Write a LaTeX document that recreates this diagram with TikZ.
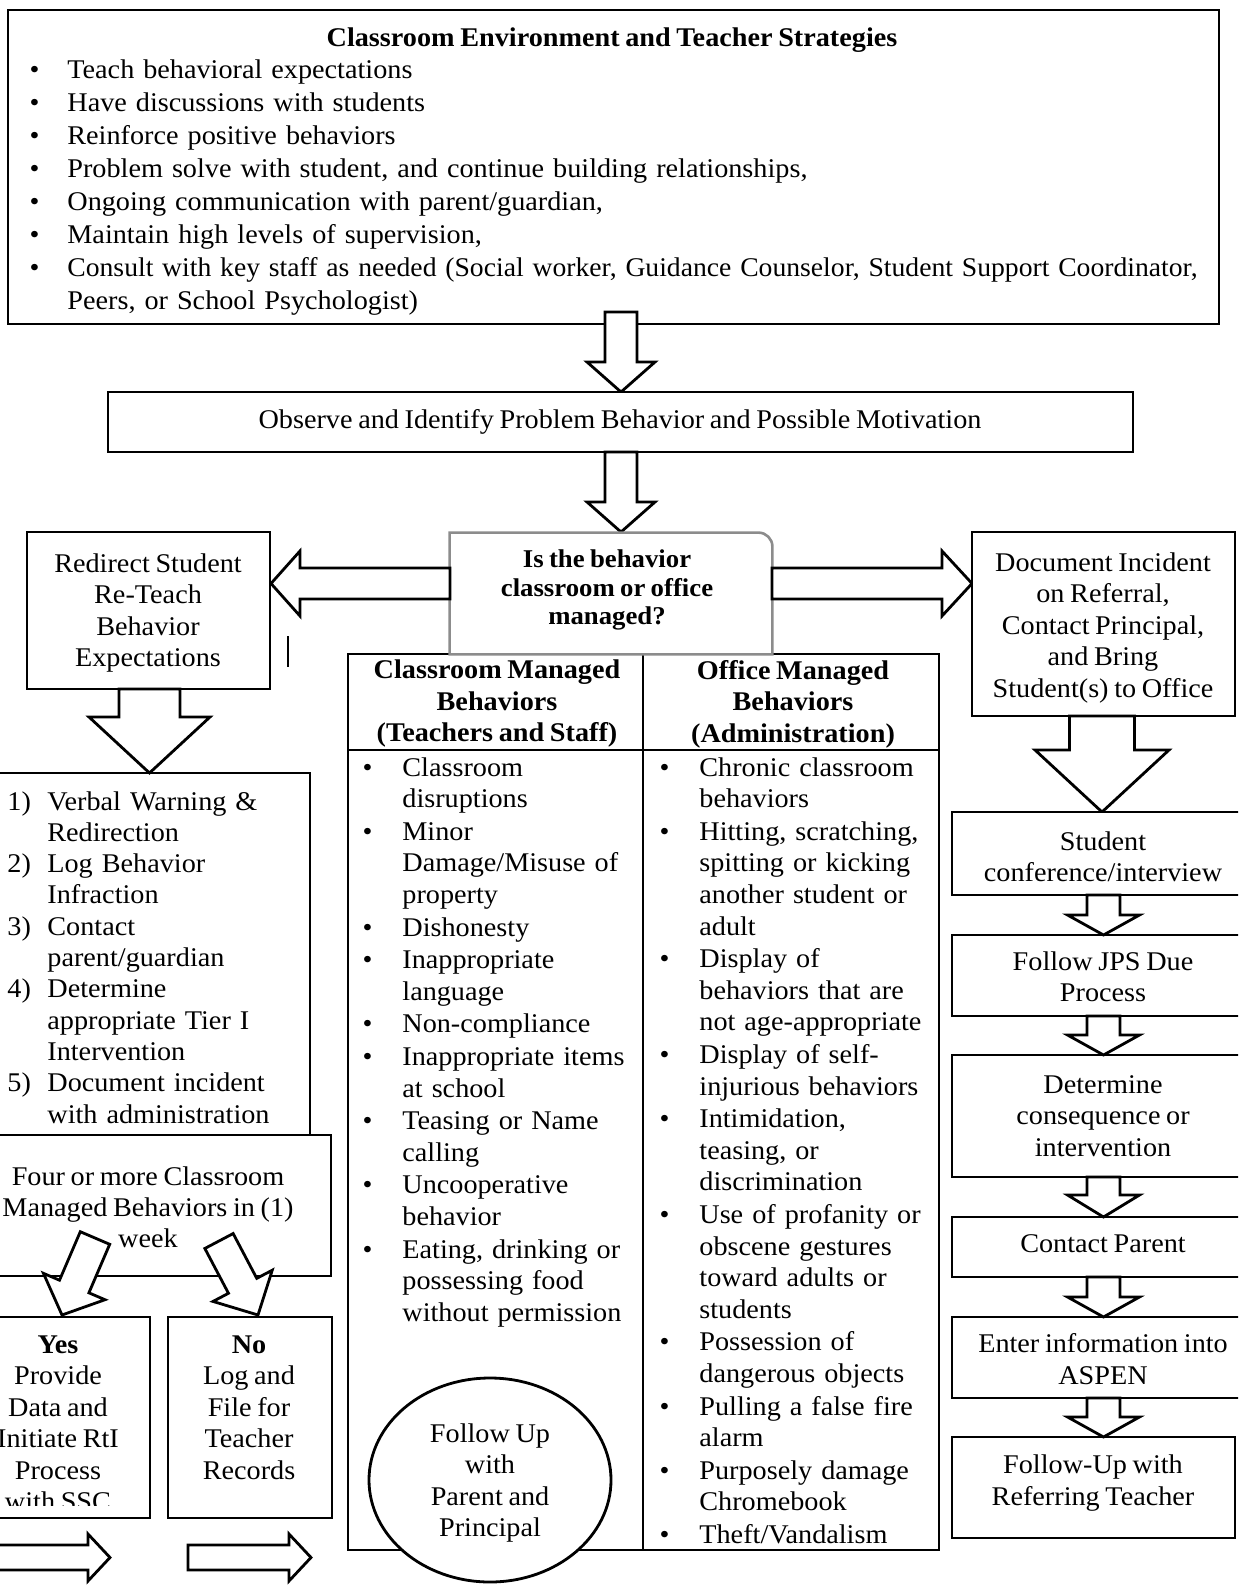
\documentclass[tikz,border=0pt]{standalone}
\usepackage{fontspec}
\setmainfont{Liberation Serif}[FakeStretch=1.045, WordSpace=0.8]
\usetikzlibrary{calc,fit,shapes.geometric}

\newcommand{\fs}{\fontsize{13.5pt}{15.75pt}\selectfont}
\newcommand{\bul}[1]{\leavevmode\llap{•\hspace{#1}}}
\newcommand{\nm}[1]{\leavevmode\llap{\makebox[20pt][l]{#1}}}

\tikzset{
  box/.style={draw, line width=1.4pt, fill=white, inner sep=0pt},
  txt/.style={inner sep=0pt, font=\fs, align=center},
  lst/.style={inner sep=0pt, align=left},
  blk/.style={draw, line width=1.4pt, fill=white, line join=miter},
  tbl/.style={draw, line width=0.9pt, inner sep=0pt},
  tline/.style={line width=0.9pt},
  decb/.style={draw=black!45, line width=1.3pt, fill=white},
}

% block arrow: from, to, half shaft width, half head width, head length
\newcommand{\barr}[5]{%
  \coordinate (hb) at ($(#2)!#5!(#1)$);
  \draw[blk] ($(#1)!#3!90:(#2)$) -- ($(hb)!#3!90:(#2)$) -- ($(hb)!#4!90:(#2)$) -- (#2)
    -- ($(hb)!#4!-90:(#2)$) -- ($(hb)!#3!-90:(#2)$) -- ($(#1)!#3!-90:(#2)$) -- cycle;
}
% box: [opts]{name}{x1}{y1}{x2}{y2}
\newcommand{\bx}[6][]{%
  \pgfmathsetmacro\bw{(#5-#3)*0.5}%
  \pgfmathsetmacro\bh{(#6-#4)*0.5}%
  \node[box, minimum width=\bw pt, minimum height=\bh pt, #1] (#2) at ({(#3+#5)/2},{(#4+#6)/2}) {};%
}

\begin{document}
\begin{tikzpicture}[x=0.5pt, y=-0.5pt]
\useasboundingbox (0,0) rectangle (1238,1593);
\clip (0,0) rectangle (1238,1593);
\fill[white] (0,0) rectangle (1238,1593);

% ---------- top box
\bx{top}{8}{10}{1219}{324}
\node[txt, anchor=base, font=\fs\bfseries] (toptitle) at (612,47) {Classroom Environment and Teacher Strategies};
\node[lst, anchor=base west, text width=590pt, font=\fontsize{13.5pt}{16.45pt}\selectfont] (toplist) at (67,79) {%
\bul{14pt}Teach behavioral expectations\\
\bul{14pt}Have discussions with students\\
\bul{14pt}Reinforce positive behaviors\\
\bul{14pt}Problem solve with student, and continue building relationships,\\
\bul{14pt}Ongoing communication with parent/guardian,\\
\bul{14pt}Maintain high levels of supervision,\\
\bul{14pt}\scalebox{0.98}[1]{Consult with key staff as needed (Social worker, Guidance Counselor, Student Support Coordinator,}\\
Peers, or School Psychologist)};

% ---------- observe
\coordinate (a1s) at (621,312);
\coordinate (a1e) at (621,392);
\barr{a1s}{a1e}{8pt}{17pt}{15pt}
\bx{obs}{108}{392}{1133}{452}
\node[txt] (obstext) at (620,422) {Observe and Identify Problem Behavior and Possible Motivation};
\coordinate (a2s) at (621,452);
\coordinate (a2e) at (621,532);
\barr{a2s}{a2e}{8pt}{17pt}{15pt}

% ---------- table
\node[tbl, fit={(348,654) (939,1550)}] (table) {};
\draw[tline] (643,654) -- (643,1550);
\draw[tline] (348,750) -- (939,750);
\node[txt, font=\fs\bfseries] (h1) at (497,704) {Classroom Managed\\Behaviors\\(Teachers and Staff)};
\node[txt, font=\fs\bfseries] (h2) at (793,704) {Office Managed\\Behaviors\\(Administration)};

\node[lst, anchor=base west, text width=150pt, font=\fontsize{13.5pt}{15.8pt}\selectfont] (col1) at (402,776) {%
\bul{15pt}Classroom\\disruptions\\[0.5pt]
\bul{15pt}Minor\\Damage/Misuse of\\property\\[0.5pt]
\bul{15pt}Dishonesty\\[0.5pt]
\bul{15pt}Inappropriate\\language\\[0.5pt]
\bul{15pt}Non-compliance\\[0.5pt]
\bul{15pt}Inappropriate items\\at school\\[0.5pt]
\bul{15pt}Teasing or Name\\calling\\[0.5pt]
\bul{15pt}Uncooperative\\behavior\\[0.5pt]
\bul{15pt}Eating, drinking or\\possessing food\\without permission};

\node[lst, anchor=base west, text width=150pt, font=\fontsize{13.5pt}{15.8pt}\selectfont] (col2) at (699,776) {%
\bul{15pt}Chronic classroom\\behaviors\\[0.5pt]
\bul{15pt}Hitting, scratching,\\spitting or kicking\\another student or\\adult\\[0.5pt]
\bul{15pt}Display of\\behaviors that are\\not age-appropriate\\[0.5pt]
\bul{15pt}Display of self-\\injurious behaviors\\[0.5pt]
\bul{15pt}Intimidation,\\teasing, or\\discrimination\\[0.5pt]
\bul{15pt}Use of profanity or\\obscene gestures\\toward adults or\\students\\[0.5pt]
\bul{15pt}Possession of\\dangerous objects\\[0.5pt]
\bul{15pt}Pulling a false fire\\alarm\\[0.5pt]
\bul{15pt}Purposely damage\\Chromebook\\[0.5pt]
\bul{15pt}Theft/Vandalism};

\node[ellipse, draw, line width=1.4pt, fill=white, minimum width=121pt, minimum height=102pt, inner sep=0pt] (fup) at (490,1480) {};
\node[txt, font=\fontsize{13.5pt}{15.6pt}\selectfont] (fuptext) at (490,1483) {Follow Up\\with\\Parent and\\Principal};

% ---------- decision
\node[inner sep=0pt, fit={(450,533) (772,654)}] (dec) {};
\draw[decb] (dec.south west) -- (dec.north west) -- ([xshift=-7pt]dec.north east) arc[start angle=90, end angle=0, radius=7pt] -- (dec.south east) -- cycle;
\node[txt, font=\fontsize{12.8pt}{14.25pt}\selectfont\bfseries] (dectext) at (607,590) {Is the behavior\\classroom or office\\managed?};

% ---------- left branch
\bx{redir}{27}{532}{270}{689}
\node[txt] (redirtext) at (148,613) {Redirect Student\\Re-Teach\\Behavior\\Expectations};
\coordinate (a3s) at (450,583.5);
\coordinate (a3e) at (271,583.5);
\barr{a3s}{a3e}{7.75pt}{16.25pt}{14.5pt}
\draw[line width=0.7pt] (288,636) -- (288,667);

\bx{steps}{-3}{773}{310}{1135}
\coordinate (a5s) at (149.5,689);
\coordinate (a5e) at (149.5,773);
\barr{a5s}{a5e}{15.25pt}{30.25pt}{28pt}
\node[lst, anchor=base west, text width=200pt, font=\fontsize{13.5pt}{15.65pt}\selectfont] (stepslist) at (47,810) {%
\nm{1)}Verbal Warning \&\\Redirection\\
\nm{2)}Log Behavior\\Infraction\\
\nm{3)}Contact\\parent/guardian\\
\nm{4)}Determine\\appropriate Tier I\\Intervention\\
\nm{5)}Document incident\\with administration};

\bx{four}{-3}{1135}{331}{1276}
\node[txt, font=\fontsize{13.5pt}{15.6pt}\selectfont] (fourtext) at (148,1207) {Four or more Classroom\\Managed Behaviors in (1)\\week};

\bx{yes}{-3}{1317}{150}{1518}
\bx{no}{168}{1317}{332}{1518}
\begin{scope}
\clip (0,1319) rectangle (148,1505);
\node[txt, anchor=north] (yestext) at (58,1335) {\textbf{Yes}\\Provide\\Data and\\Initiate RtI\\Process\\with SSC};
\end{scope}
\node[txt, anchor=north] (notext) at (249,1335) {\textbf{No}\\Log and\\File for\\Teacher\\Records};

\coordinate (ys) at (95,1238);
\coordinate (ye) at (62,1315);
\barr{ys}{ye}{8pt}{16.75pt}{15.5pt}
\coordinate (ns) at (219,1241);
\coordinate (ne) at (258,1315);
\barr{ns}{ne}{8pt}{16.75pt}{16.5pt}

\coordinate (b1s) at (-10,1557.5);
\coordinate (b1e) at (110,1557.5);
\barr{b1s}{b1e}{6.25pt}{11.75pt}{11pt}
\coordinate (b2s) at (188,1557.5);
\coordinate (b2e) at (311,1557.5);
\barr{b2s}{b2e}{6.25pt}{11.75pt}{11pt}

% ---------- right branch
\coordinate (a4s) at (772,583.5);
\coordinate (a4e) at (972,583.5);
\barr{a4s}{a4e}{7.75pt}{16.25pt}{15pt}
\bx{doc}{972}{532}{1235}{716}
\node[txt] (doctext) at (1103,628) {Document Incident\\on Referral,\\Contact Principal,\\and Bring\\Student(s) to Office};
\coordinate (a6s) at (1102,716);
\coordinate (a6e) at (1102,812);
\barr{a6s}{a6e}{16.25pt}{33.5pt}{31pt}

\bx{conf}{952}{812}{1250}{895}
\node[txt] (conftext) at (1103,857) {Student\\conference/interview};
\bx{jps}{952}{935}{1250}{1016}
\node[txt] (jpstext) at (1103,977) {Follow JPS Due\\Process};
\bx{cons}{952}{1055}{1250}{1177}
\node[txt] (constext) at (1103,1116) {Determine\\consequence or\\intervention};
\bx{cpar}{952}{1217}{1250}{1277}
\node[txt] (cpartext) at (1103,1244) {Contact Parent};
\bx{aspen}{952}{1317}{1250}{1398}
\node[txt] (aspentext) at (1103,1359) {Enter information into\\ASPEN};
\bx{fref}{952}{1437}{1235}{1538}
\node[txt] (freftext) at (1093,1483) {Follow-Up with\\Referring Teacher};

\coordinate (r1s) at (1103.5,895);  \coordinate (r1e) at (1103.5,935);
\barr{r1s}{r1e}{8.25pt}{18pt}{10pt}
\coordinate (r2s) at (1103.5,1016); \coordinate (r2e) at (1103.5,1055);
\barr{r2s}{r2e}{8.25pt}{18pt}{10pt}
\coordinate (r3s) at (1103.5,1177); \coordinate (r3e) at (1103.5,1217);
\barr{r3s}{r3e}{8.25pt}{18pt}{11pt}
\coordinate (r4s) at (1103.5,1277); \coordinate (r4e) at (1103.5,1317);
\barr{r4s}{r4e}{8.25pt}{18pt}{10pt}
\coordinate (r5s) at (1103.5,1398); \coordinate (r5e) at (1103.5,1437);
\barr{r5s}{r5e}{8.25pt}{18pt}{10pt}
\end{tikzpicture}
\end{document}
